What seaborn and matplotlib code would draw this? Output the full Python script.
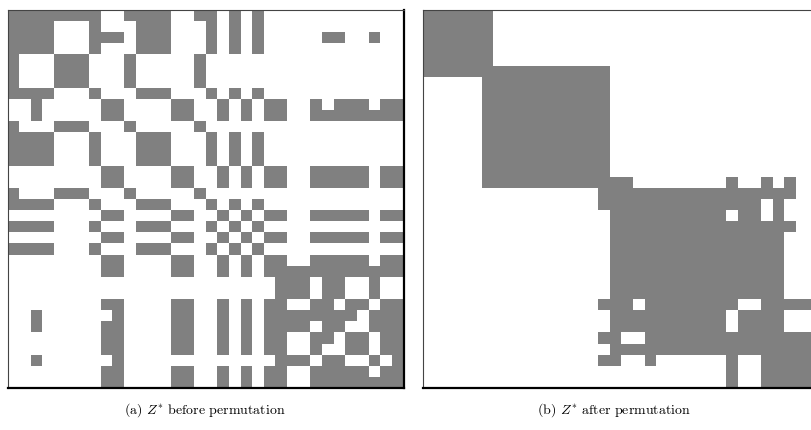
import numpy as np
import matplotlib
matplotlib.use("Agg")
import matplotlib.pyplot as plt
from matplotlib.colors import ListedColormap
import seaborn as sns

# Binary matrix Z* (1 = grey cell), one string per row, original item order
row_wx = "1111111100111100110101000000000000"
row_x = "1111000100011100010101000000000000"
row_x2 = "1111000111011100010101000001100100"
row_w = "1000111000100000100000000000000000"
row_y = "0000000011000011001010110011111011"
rows_before = [
    row_wx,                                   # 0
    row_x,                                    # 1
    row_x2,                                   # 2
    row_x,                                    # 3
    row_w,                                    # 4
    row_w,                                    # 5
    row_w,                                    # 6
    row_x,                                    # 7
    "0010000011000011001010110010111011",     # 8
    "0010000011000011001010110011111111",     # 9
    row_w,                                    # 10
    row_x,                                    # 11
    row_x,                                    # 12
    row_x,                                    # 13
    row_y,                                    # 14
    row_y,                                    # 15
    row_w,                                    # 16
    row_x,                                    # 17
    row_y,                                    # 18
    row_x,                                    # 19
    row_y,                                    # 20
    row_x,                                    # 21
    row_y,                                    # 22
    "0000000011000011001010111111111111",     # 23
    "0000000000000000000000011101100100",     # 24
    "0000000000000000000000011101100100",     # 25
    "0000000011000011001010110011011011",     # 26
    "0010000001000011001010111111110111",     # 27
    "0010000011000011001010111101100111",     # 28
    "0000000011000011001010110011011011",     # 29
    "0000000011000011001010110010011011",     # 30
    "0010000001000000000000011101100101",     # 31
    row_y,                                    # 32
    "0000000011000011001010110011111111",     # 33
]

# Item order after permutation (groups placed next to each other)
order_after = [4, 5, 6, 10, 16, 0, 1, 3, 7, 11, 12, 13, 17, 19, 21, 2,
               9, 8, 30, 33, 14, 15, 18, 20, 22, 32, 28, 26, 29, 27, 23, 31, 24, 25]

captions = ["(a) $Z^{*}$ before permutation", "(b) $Z^{*}$ after permutation"]

Z = np.array([[int(ch) for ch in r] for r in rows_before])
Z_perm = Z[np.ix_(order_after, order_after)]

plt.rcParams["font.family"] = "serif"
plt.rcParams["font.serif"] = ["cmr10", "DejaVu Serif"]
plt.rcParams["mathtext.fontset"] = "cm"
plt.rcParams["axes.formatter.use_mathtext"] = True

W, H = 811, 430
fig = plt.figure(figsize=(W / 100, H / 100), dpi=100)
fig.patch.set_facecolor("white")

cmap = ListedColormap(["#ffffff", "#808080"])
panel_w, panel_h = 396.1, 378.0
lefts = [7.5, 423.3]
top = 10.0

for mat, x0 in zip([Z, Z_perm], lefts):
    ax = fig.add_axes([x0 / W, (H - top - panel_h) / H, panel_w / W, panel_h / H])
    sns.heatmap(mat, ax=ax, cmap=cmap, vmin=0, vmax=1, cbar=False,
                xticklabels=False, yticklabels=False, linewidths=0, square=False)
    ax.set_xlabel("")
    ax.set_ylabel("")
    ax.tick_params(length=0)
    for side, sp in ax.spines.items():
        sp.set_visible(True)
        if side in ("right", "bottom"):
            sp.set_color("black")
            sp.set_linewidth(1.6)
        else:
            sp.set_color("#444444")
            sp.set_linewidth(0.8)

for text, xc in zip(captions, [205, 614]):
    fig.text(xc / W, 1 - 410 / H, text, ha="center", va="center", fontsize=10)

fig.savefig("out.png", dpi=100, facecolor="white")
